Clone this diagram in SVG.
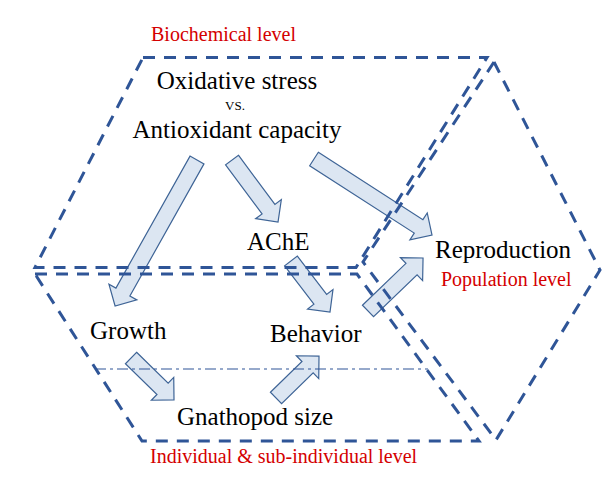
<svg xmlns="http://www.w3.org/2000/svg" width="611" height="494" viewBox="0 0 611 494">
<style>
.lvl{fill:none;stroke:#2F5597;stroke-width:3;stroke-dasharray:12 9;stroke-linejoin:miter}
.dd{fill:none;stroke:#2F5597;stroke-width:1.2;stroke-dasharray:11 4 3 4}
.arr{fill:#DCE6F2;stroke:#3E6496;stroke-width:1.2;stroke-linejoin:miter}
.t{font-family:"Liberation Serif","Times New Roman",serif;font-size:25px;fill:#000}
.r{font-family:"Liberation Serif","Times New Roman",serif;font-size:20px;fill:#D40000}
.vs{font-family:"Liberation Serif","Times New Roman",serif;font-size:13px;fill:#000}
</style>
<rect width="611" height="494" fill="#fff"/>
<g id="connectors">
<path class="arr" transform="translate(197,160) rotate(119.3)" d="M0,-8 H151.4 V-16 L167.4,0 L151.4,16 V8 H0 Z"/>
<path class="arr" transform="translate(232,160) rotate(53.4)" d="M0,-8 H61.2 V-16 L77.2,0 L61.2,16 V8 H0 Z"/>
<path class="arr" transform="translate(314,159) rotate(32.8)" d="M0,-8 H124.4 V-16 L140.4,0 L124.4,16 V8 H0 Z"/>
<path class="arr" transform="translate(291,261) rotate(52.6)" d="M0,-8 H48.2 V-16 L64.2,0 L48.2,16 V8 H0 Z"/>
<path class="arr" transform="translate(368,311) rotate(-43.9)" d="M0,-8 H60.4 V-16 L76.4,0 L60.4,16 V8 H0 Z"/>
<path class="arr" transform="translate(131,358) rotate(44.3)" d="M0,-8 H44.1 V-16 L60.1,0 L44.1,16 V8 H0 Z"/>
<path class="arr" transform="translate(276,398) rotate(-44.3)" d="M0,-8 H44.1 V-16 L60.1,0 L44.1,16 V8 H0 Z"/>
</g>
<g id="levels">
<path id="biochemical-level" class="lvl" d="M143,57.5 L487,57.5 L356,267.5 L35,267.5 Z"/>
<path id="individual-level" class="lvl" d="M35,274 L357,274 L479,441 L142,441 Z"/>
<path id="population-level" class="lvl" d="M494,62 L600,270 L496,440 L363,262 Z"/>
<path id="divider" class="dd" d="M95,369 H428"/>
</g>
<g id="label-biochemical"><text class="r" x="151" y="41">Biochemical level</text></g>
<g id="label-population"><text class="r" x="441" y="286">Population level</text></g>
<g id="label-individual"><text class="r" x="150" y="463">Individual &amp; sub-individual level</text></g>
<g id="node-oxidative">
<text class="t" x="237" y="89" text-anchor="middle">Oxidative stress</text>
<text class="vs" x="235" y="110" text-anchor="middle">VS.</text>
<text class="t" x="237" y="138" text-anchor="middle">Antioxidant capacity</text>
</g>
<g id="node-ache"><text class="t" x="247" y="250">AChE</text></g>
<g id="node-reproduction"><text class="t" x="435" y="258">Reproduction</text></g>
<g id="node-growth"><text class="t" x="90" y="339">Growth</text></g>
<g id="node-behavior"><text class="t" x="270" y="342">Behavior</text></g>
<g id="node-gnathopod"><text class="t" x="177" y="425">Gnathopod size</text></g>
</svg>
